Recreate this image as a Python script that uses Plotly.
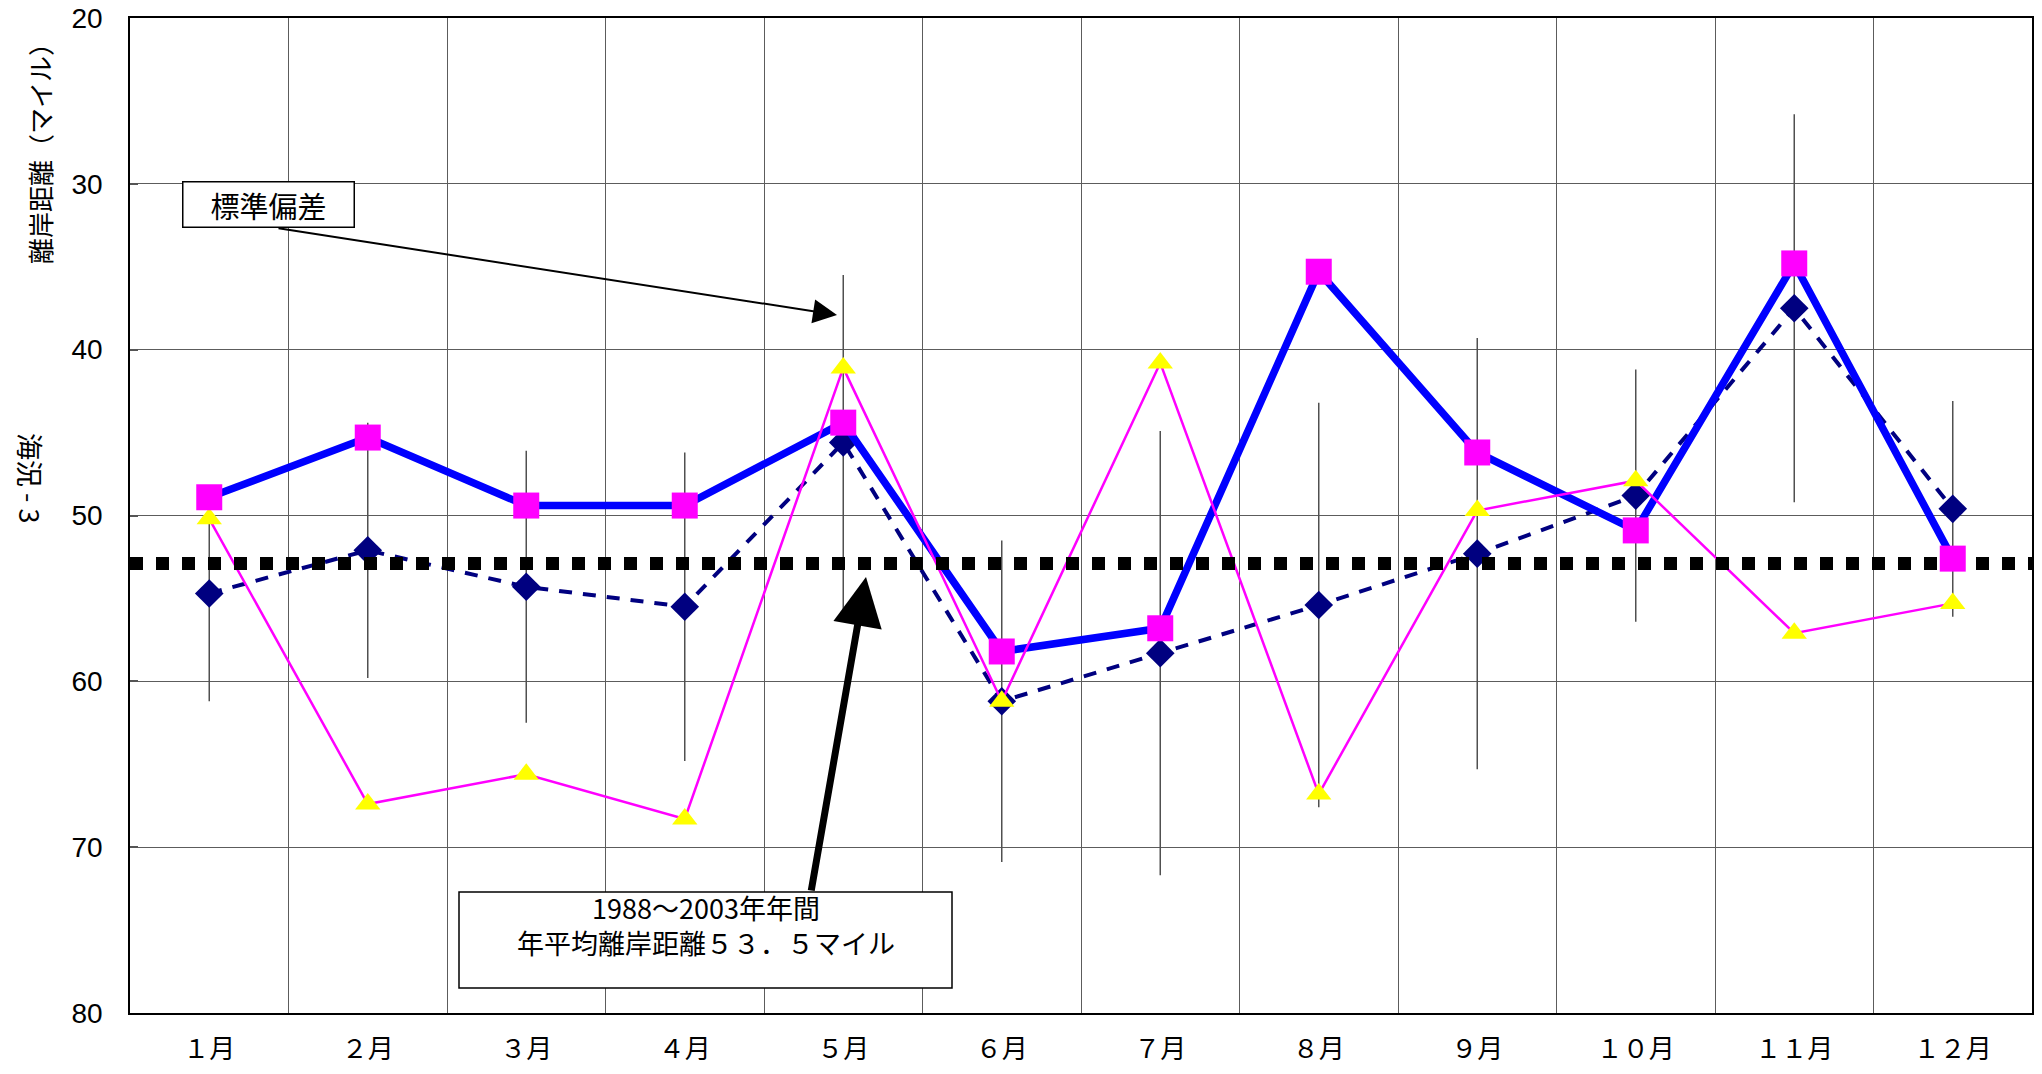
import plotly.graph_objects as go

# ---- data ----
months = ["１月", "２月", "３月", "４月", "５月", "６月",
          "７月", "８月", "９月", "１０月", "１１月", "１２月"]
current_year = [48.9, 45.3, 49.4, 49.4, 44.4, 58.2, 56.8, 35.3, 46.2, 50.9, 34.8, 52.6]
monthly_mean = [54.7, 52.1, 54.3, 55.5, 45.6, 61.2, 58.3, 55.4, 52.3, 48.8, 37.5, 49.6]
monthly_std = [6.5, 7.7, 8.2, 9.3, 10.1, 9.7, 13.4, 12.2, 13.0, 7.6, 11.7, 6.5]
previous_year = [50.2, 67.4, 65.6, 68.3, 41.1, 61.2, 40.8, 66.8, 49.7, 47.9, 57.1, 55.3]
annual_mean_line = 52.9
y_ticks = [20, 30, 40, 50, 60, 70, 80]

idx = list(range(len(months)))
x_range = [-0.5, len(months) - 0.5]

JP = "Noto Sans CJK JP"
NUM = "Liberation Sans"
GRID = "#5c5c5c"

fig = go.Figure()

# long-term mean with standard deviation
fig.add_trace(go.Scatter(
    x=idx, y=monthly_mean, mode="lines+markers",
    line=dict(color="#000080", width=4, dash="13px,11px"),
    marker=dict(symbol="diamond", size=22, color="#000080"),
    error_y=dict(type="data", array=monthly_std, symmetric=True,
                 color="#505050", thickness=1.5, width=0),
    showlegend=False, hoverinfo="skip"))

# current year line
fig.add_trace(go.Scatter(
    x=idx, y=current_year, mode="lines",
    line=dict(color="#0000FF", width=7.5),
    showlegend=False, hoverinfo="skip"))

# previous year
fig.add_trace(go.Scatter(
    x=idx, y=previous_year, mode="lines+markers",
    line=dict(color="#FF00FF", width=2.5),
    marker=dict(symbol="triangle-up", size=22, color="#FFFF00"),
    showlegend=False, hoverinfo="skip"))

# annual mean dotted line
fig.add_trace(go.Scatter(
    x=x_range, y=[annual_mean_line, annual_mean_line], mode="lines",
    line=dict(color="#000000", width=13, dash="13px,13px"),
    showlegend=False, hoverinfo="skip"))

# current year markers
fig.add_trace(go.Scatter(
    x=idx, y=current_year, mode="markers",
    marker=dict(symbol="square", size=26, color="#FF00FF"),
    showlegend=False, hoverinfo="skip"))

# plot area (absolute page px): left 130, right 2032, top 18, bottom 1013 ; body margin 8
PW, PH = 1902, 995
def px(X):
    return (X - 130) / PW
def py(Y):
    return (1013 - Y) / PH

shapes = [
    dict(type="rect", xref="paper", yref="paper",
         x0=px(459), x1=px(952), y0=py(988), y1=py(892),
         line=dict(color="#000", width=1.5), fillcolor="#fff", layer="above"),
]

annotations = [
    dict(text="標準偏差", x=px(268), y=py(205), xref="paper", yref="paper",
         showarrow=False, font=dict(family=JP, size=29, color="#000"),
         bordercolor="#000", borderwidth=1.5, borderpad=0, bgcolor="#fff",
         width=170, height=44, xanchor="center", yanchor="middle"),
    dict(text="", x=px(837), y=py(315), xref="paper", yref="paper",
         showarrow=True, ax=-560, ay=-87, arrowhead=2, arrowsize=2.4,
         arrowwidth=2, arrowcolor="#000"),
    dict(text="", x=px(866), y=py(577), xref="paper", yref="paper",
         showarrow=True, ax=-55, ay=315, arrowhead=2, arrowsize=1.4,
         arrowwidth=7, arrowcolor="#000"),
    dict(text="1988～2003年年間<br>年平均離岸距離５３．５マイル",
         x=px(706), y=py(925), xref="paper", yref="paper",
         showarrow=False, font=dict(family=JP, size=27, color="#000"),
         align="center", xanchor="center", yanchor="middle"),
    dict(text="離岸距離（マイル）", x=px(40), y=py(147), xref="paper", yref="paper",
         showarrow=False, textangle=-90, font=dict(family=JP, size=26, color="#000"),
         xanchor="center", yanchor="middle"),
    dict(text="海況 - 3", x=px(31), y=py(478), xref="paper", yref="paper",
         showarrow=False, textangle=90, font=dict(family=JP, size=27, color="#000"),
         xanchor="center", yanchor="middle"),
]

fig.update_layout(
    width=2026, height=1058,
    margin=dict(l=122, r=2, t=10, b=53, autoexpand=False),
    paper_bgcolor="#ffffff", plot_bgcolor="#ffffff",
    showlegend=False,
    shapes=shapes,
    annotations=annotations,
    xaxis=dict(
        range=x_range, tickmode="array", tickvals=idx, ticktext=months,
        showgrid=False, zeroline=False, automargin=False,
        showline=True, mirror=True, linecolor="#000", linewidth=1.5,
        ticks="", ticklabelstandoff=12, ticklabeloverflow="allow",
        tickfont=dict(family=JP, size=26, color="#000"),
        minor=dict(tick0=0.5, dtick=1, showgrid=True, gridcolor=GRID,
                   gridwidth=1.3, ticks=""),
    ),
    yaxis=dict(
        range=[80, 20], tickmode="array", tickvals=y_ticks,
        showgrid=True, gridcolor=GRID, gridwidth=1.3, zeroline=False,
        automargin=False,
        showline=True, mirror=True, linecolor="#000", linewidth=1.5,
        ticks="inside", ticklen=8, tickcolor="#555", tickwidth=1.5,
        ticklabelstandoff=20, ticklabeloverflow="allow",
        tickfont=dict(family=NUM, size=28, color="#000"),
    ),
)

fig.write_html("out.html")
